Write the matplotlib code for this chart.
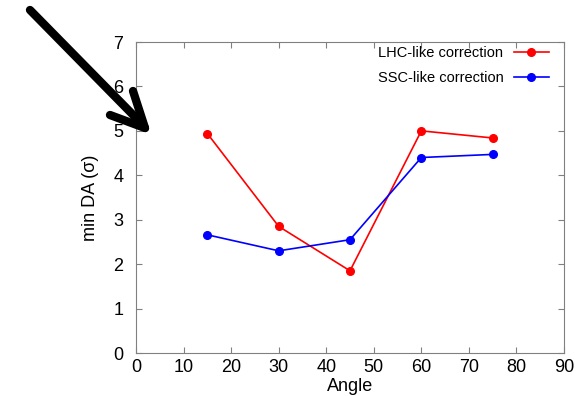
import matplotlib.pyplot as plt
from matplotlib.lines import Line2D

# data
angles = [15, 30, 45, 60, 75]
lhc_da = [4.94, 2.85, 1.85, 5.0, 4.84]
ssc_da = [2.66, 2.30, 2.55, 4.40, 4.47]

plt.rcParams['font.family'] = ['Liberation Sans', 'DejaVu Sans']

W, H = 587, 396
fig = plt.figure(figsize=(W / 100, H / 100), dpi=100)
ax = fig.add_axes([136/W, 1 - 353/H, (564 - 136)/W, (353 - 42)/H])

ax.plot(angles, lhc_da, color='red', marker='o', markersize=5.5, lw=1.2, label='LHC-like correction')
ax.plot(angles, ssc_da, color='blue', marker='o', markersize=5.5, lw=1.2, label='SSC-like correction')

ax.set_xlim(0, 90)
ax.set_ylim(0, 7)
ax.set_xticks(range(0, 91, 10))
ax.set_yticks(range(0, 8))
ax.tick_params(direction='in', top=True, right=True, labelsize=13, length=4, color='#808080')
ax.tick_params(axis='y', pad=9)
ax.tick_params(axis='x', pad=4)
for s in ax.spines.values():
    s.set_color('#808080')
ax.set_xlabel('Angle', fontsize=13, labelpad=2)
ax.set_ylabel('min DA (σ)', fontsize=13, labelpad=10)

ax.legend(loc='upper right', bbox_to_anchor=(1 - 8/428, 1 + 3/311), frameon=False,
          markerfirst=False, fontsize=10.5, handlelength=2.4, handletextpad=0.7,
          borderaxespad=0.1, labelspacing=0.75)

# big black arrow (shaft plus open head) in pixel coords of the figure
def px(x, y):
    return x / W, 1 - y / H

arrow_segs = [((30, 10), (143, 125)), ((145, 128), (133, 91)), ((145, 128), (110, 115))]
for (x0, y0), (x1, y1) in arrow_segs:
    a, b = px(x0, y0), px(x1, y1)
    fig.add_artist(Line2D([a[0], b[0]], [a[1], b[1]], transform=fig.transFigure,
                          color='black', lw=6, solid_capstyle='round'))

fig.savefig('out.png', dpi=100)
